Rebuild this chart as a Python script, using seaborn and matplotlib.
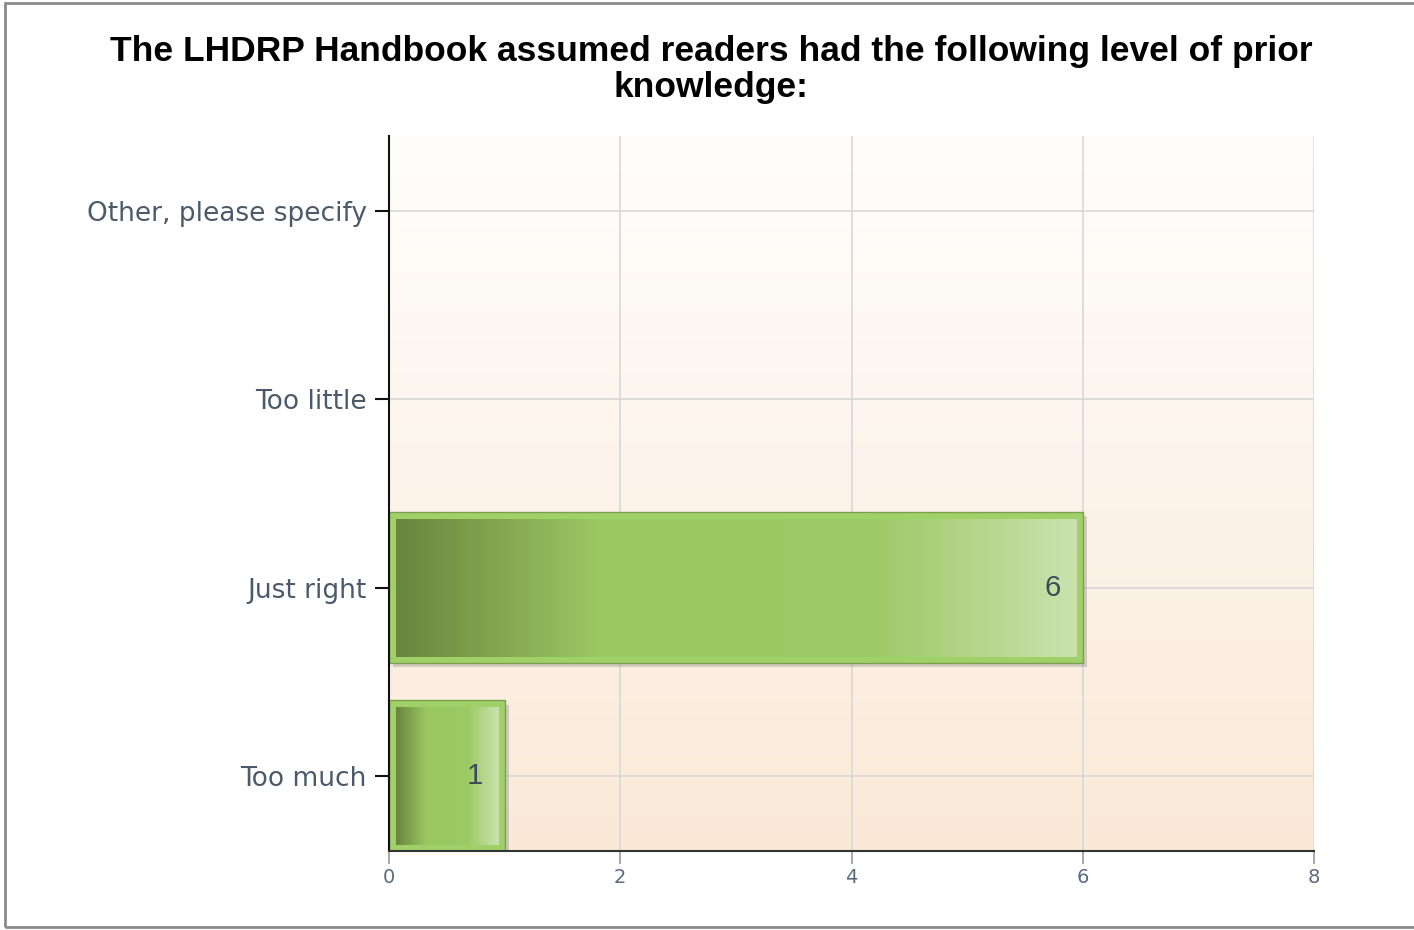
import numpy as np
import pandas as pd
import matplotlib
matplotlib.use("Agg")
import matplotlib.pyplot as plt
import matplotlib.patheffects as pe
from matplotlib.colors import LinearSegmentedColormap
from matplotlib.patches import Rectangle
import seaborn as sns

# dados do gráfico
categories = ["Other, please specify", "Too little", "Just right", "Too much"]
counts = [0, 0, 6, 1]
x_ticks = [0, 2, 4, 6, 8]
title = "The LHDRP Handbook assumed readers had the following level of prior\nknowledge:"

df = pd.DataFrame({"answer": categories, "count": counts})

sns.set_theme(style="white")
plt.rcParams["font.family"] = ["Liberation Sans", "DejaVu Sans"]

fig = plt.figure(figsize=(14.14, 9.30), dpi=100)
ax = fig.add_axes([389 / 1414, 1 - 851 / 930, 925 / 1414, 715 / 930])

# fundo em degradê (branco em cima -> pêssego embaixo)
bg = LinearSegmentedColormap.from_list("bg", ["#fae9d7", "#fffefd"])
ax.imshow(np.linspace(0, 1, 256).reshape(-1, 1), cmap=bg, aspect="auto", origin="lower",
          extent=(0, 1, 0, 1), transform=ax.transAxes, zorder=0.1)

sns.barplot(data=df, x="count", y="answer", order=categories, orient="h",
            color="#a0d068", edgecolor="#7d9f52", linewidth=1.0, width=0.8,
            saturation=1, ax=ax, zorder=1)

ax.set_xlim(0, 8)
ax.set_ylim(3.4, -0.4)
ax.set_xticks(x_ticks)
ax.set_xlabel("")
ax.set_ylabel("")

ax.grid(True, color="#d8d8d8", linewidth=1.2)
ax.set_axisbelow(True)
for s in ["top", "right"]:
    ax.spines[s].set_visible(False)
ax.spines["left"].set_color("#111111")
ax.spines["left"].set_linewidth(1.5)
ax.spines["bottom"].set_color("#333333")
ax.spines["bottom"].set_linewidth(1.5)

ax.tick_params(axis="y", left=True, length=10, width=1.5, color="#111111",
               labelsize=19, labelcolor="#4b5a6a", pad=6)
for lbl in ax.get_yticklabels():
    lbl.set_family(["DejaVu Sans"])
ax.tick_params(axis="x", bottom=True, length=9, width=1.5, color="#aaaaaa",
               labelsize=14, labelcolor="#5a6b80", pad=3)
for lbl in ax.get_xticklabels():
    lbl.set_family(["DejaVu Sans"])

# degradê dentro das barras + sombra + rótulos
bar_cmap = LinearSegmentedColormap.from_list(
    "bar", [(0, "#6a853e"), (0.3, "#9cc863"), (0.7, "#9dc966"), (1.0, "#cbe2ae")])
fig.canvas.draw()
inv = ax.transData.inverted()
for p, v in zip(ax.patches, counts):
    if p.get_width() == 0:
        p.set_visible(False)
        continue
    p.set_path_effects([pe.SimplePatchShadow(offset=(3, -3), shadow_rgbFace="#777777", alpha=0.3),
                        pe.Normal()])
    x0, y0 = p.get_x(), p.get_y()
    x1, y1 = x0 + p.get_width(), y0 + p.get_height()
    (px0, py0) = ax.transData.transform((x0, y0))
    (px1, py1) = ax.transData.transform((x1, y1))
    ix0, iy0 = inv.transform((px0 + 7, py0 - 7))
    ix1, iy1 = inv.transform((px1 - 6, py1 + 6))
    ax.imshow(np.linspace(0, 1, 256).reshape(1, -1), cmap=bar_cmap, aspect="auto",
              extent=(ix0, ix1, iy0, iy1), zorder=1.5, interpolation="bilinear")
    ax.annotate(f"{v}", xy=(x1, y0 + p.get_height() / 2), xytext=(-22, 0),
                textcoords="offset pixels", ha="right", va="center",
                fontsize=21, color="#3d4a58", zorder=3)

ax.set_xlim(0, 8)
ax.set_ylim(3.4, -0.4)

fig.text(0.503, 1 - 35 / 930, title, ha="center", va="top", fontsize=25.5,
         fontweight="bold", color="black", linespacing=1.12)

# moldura cinza em volta
fig.patches.append(Rectangle((5 / 1414, 3 / 930), 1.2, 924 / 930, transform=fig.transFigure,
                             fill=False, edgecolor="#8a8a8a", linewidth=2))

fig.savefig("out.png", dpi=100)
